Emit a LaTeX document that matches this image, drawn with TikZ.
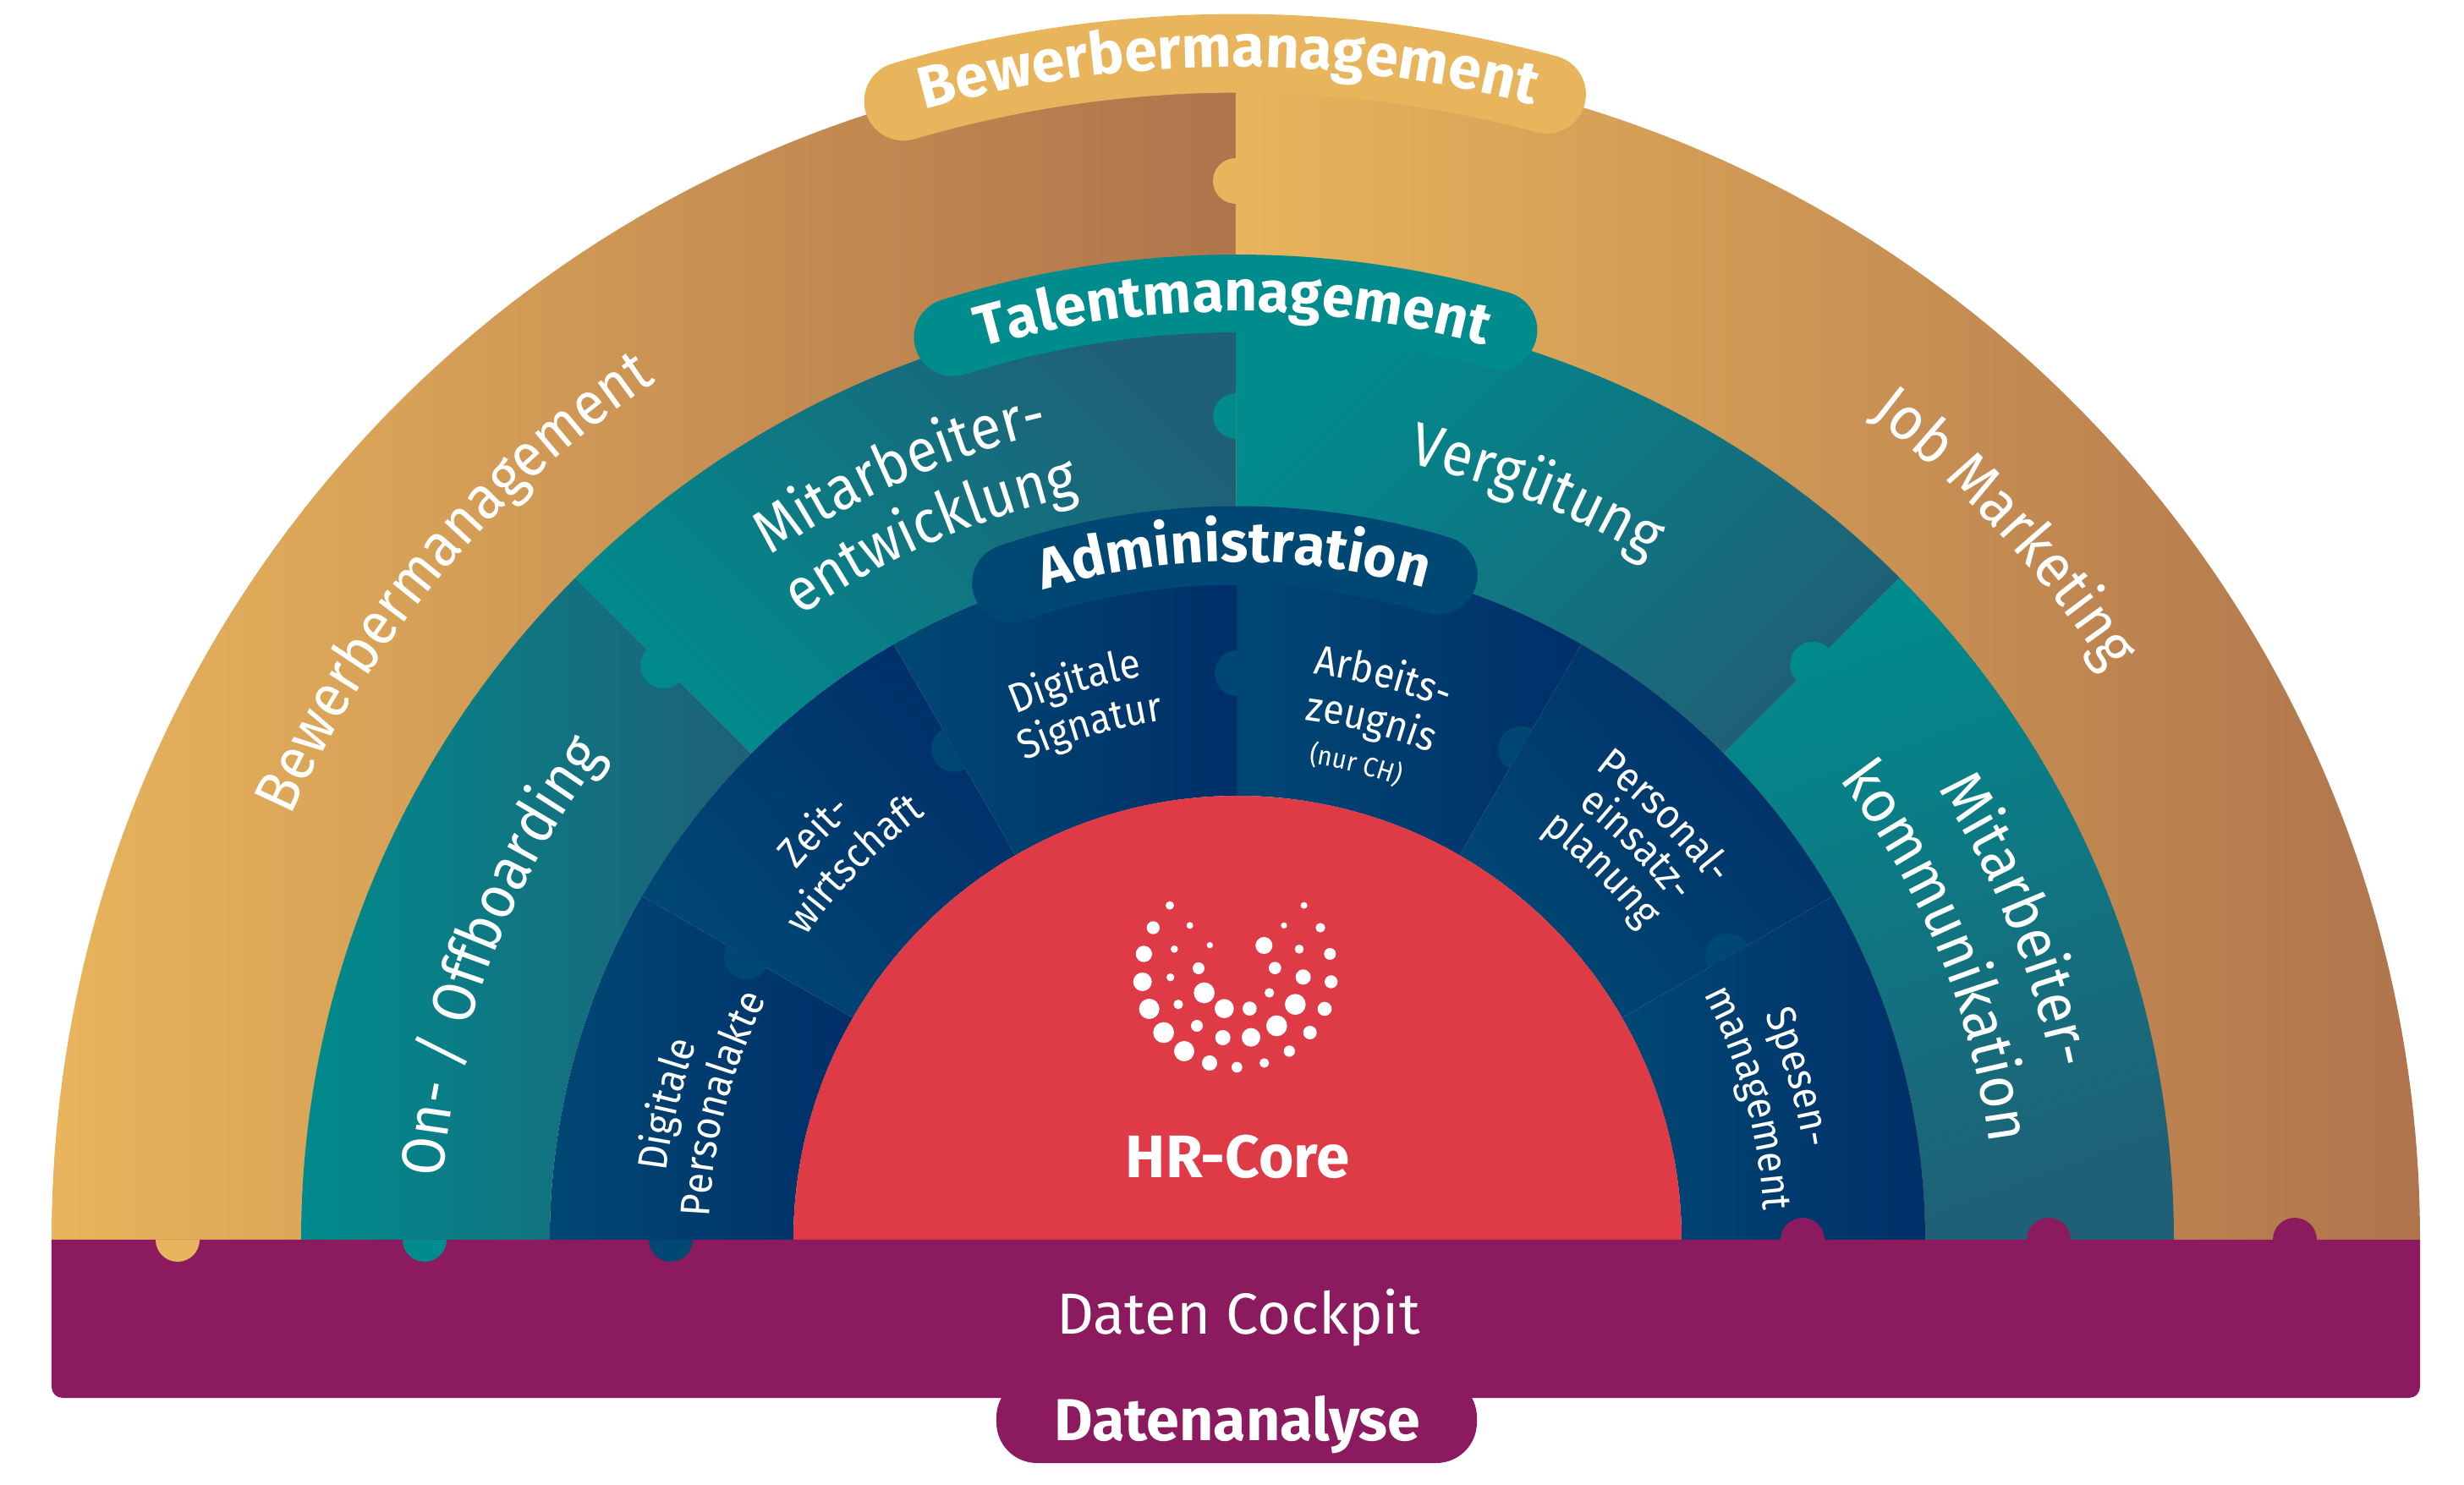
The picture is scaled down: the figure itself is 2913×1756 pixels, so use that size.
\documentclass[tikz,border=0pt]{standalone}
\usepackage{fontspec}
\setmainfont{Fira Sans}
\newfontfamily\ringfont[FakeStretch=0.92]{Fira Sans}
\usetikzlibrary{decorations.text}

\definecolor{goldhell}{HTML}{E8B45C}
\definecolor{goldbraun}{HTML}{AF744C}
\definecolor{tealhell}{HTML}{008B8D}
\definecolor{tealdunkel}{HTML}{1F6076}
\definecolor{blauhell}{HTML}{004874}
\definecolor{blaudunkel}{HTML}{002F69}
\definecolor{kernrot}{HTML}{DF3B47}
\definecolor{datenlila}{HTML}{8B1A5E}

\tikzset{
	goldseg/.style={bottom color=goldhell,top color=goldbraun,shading angle=-90},
	tealseg/.style={bottom color=tealhell,top color=tealdunkel,shading angle=#1},
	blauseg/.style={bottom color=blauhell,top color=blaudunkel,shading angle=#1},
	kerntext/.style={text=white,inner sep=0pt,anchor=base,font=\fontsize{68.5}{72}\selectfont},
}

% Ringsegment: Innenradius, Aussenradius, Winkel von, Winkel bis, Stil
\newcommand{\ringseg}[5]{
	\shade[#5] (#3:#2) arc[start angle=#3,end angle=#4,radius=#2] -- (#4:#1)
		arc[start angle=#4,end angle=#3,radius=#1] -- cycle;
}
% Puzzlenase auf der Trennlinie: Winkel, Abstand, Farbe
\newcommand{\puzzlenase}[3]{
	\fill[#3,rotate=#1] (#2+27,0) arc[start angle=0,end angle=180,radius=27] -- cycle;
}
% Text auf dem Bogen: Radius, Winkel von, Winkel bis, Schrift, Text
\newcommand{\bogentext}[5]{
	\path[decorate,decoration={text along path,text align=center,
		text={|\color{white}#4|#5}}]
		({#2+8}:#1) arc[start angle=#2+8,end angle=#3-8,radius=#1];
}
\newcommand{\grossschrift}{\ringfont\fontsize{72}{80}\selectfont}
\newcommand{\kopfschrift}[1]{\bfseries\fontsize{#1}{76}\selectfont}
\newcommand{\kleinschrift}{\ringfont\fontsize{49}{54}\selectfont}

\begin{document}
\begin{tikzpicture}[x=1pt,y=1pt]
	\useasboundingbox (-1463,-290) rectangle (1450,1466);

	% Aeusserer Ring
	\begin{scope}[xshift=-2pt]
		\ringseg{813}{1400}{90}{180}{goldseg}
		\ringseg{813}{1400}{0}{90}{goldseg}
		\puzzlenase{90}{1252}{goldhell}
	\end{scope}

	% Mittlerer Ring
	\ringseg{813}{1107}{135}{180}{tealseg=-90}
	\ringseg{813}{1107}{90.1}{135}{tealseg=-45}
	\ringseg{813}{1107}{45}{90.1}{bottom color=tealdunkel,top color=tealhell,shading angle=45}
	\ringseg{813}{1107}{0}{45}{bottom color=tealdunkel,top color=tealhell,shading angle=20}

	% Innerer Ring
	\foreach \a/\w in {150/-90,120/-50,90/-90,60/-90,30/-50,0/-90} {
		\ringseg{525}{813}{\a}{\a+30}{blauseg=\w}
	}

	% Puzzlenasen in den Ringen
	\puzzlenase{135}{960}{tealhell!97!tealdunkel}
	\puzzlenase{90.1}{974}{tealhell!97!tealdunkel}
	\puzzlenase{45}{962}{tealhell!97!tealdunkel}
	\foreach \a in {30,60,90,120,150} {
		\puzzlenase{\a}{670}{blauhell}
	}

	% Kern
	\fill[kernrot] (525,0) arc[start angle=0,end angle=180,radius=525] -- cycle;

	% Datenband und Reiter
	\node[fill=datenlila,rounded corners=48pt,minimum width=568pt,minimum height=102pt,inner sep=0pt] (reiter) at (-1,-213) {};
	\fill[datenlila] (-1402,0) [rounded corners=13pt] -- (-1402,-187) -- (1398,-187) [sharp corners] -- (1398,0) -- cycle;

	% Nasen am Datenband
	\foreach \x/\f in {-1253/goldhell,-961/tealhell,-670/blauhell} {
		\fill[\f] (\x-26,0) arc[start angle=180,end angle=360,radius=26] -- cycle;
	}
	\foreach \x in {668,959,1250} {
		\fill[datenlila] (\x-26,0) arc[start angle=180,end angle=0,radius=26] -- cycle;
	}

	% Kopfbaender
	\draw[goldhell,line width=93pt,line cap=round] (106.35:1403) arc[start angle=106.35,end angle=74.9,radius=1403];
	\draw[tealhell,line width=92pt,line cap=round] (107.5:1119) arc[start angle=107.5,end angle=74,radius=1119];
	\draw[blauhell,line width=93pt,line cap=round] (109:821) arc[start angle=109,end angle=73.2,radius=821];

	% Logo
	\foreach \x/\y/\r in {399/122/15,340/201/23,470/193/12,415/277/13,541/263/11,307/294/29,302/393/33,401/377/14,
		501/345/21,521/432/37,326/489/36,429/473/17,592/488/34,682/488/25,377/573/37,495/549/21,587/591/27,
		687/590/33,450/639/36,540/681/27,637/696/19,734/681/17,823/639/20,778/549/37,896/573/24,844/473/37,
		948/489/25,752/432/17,872/376/27,971/393/23,967/294/21,858/277/16,772/344/22,733/264/30,933/201/17,
		804/193/11,875/122/12} {
		\fill[white] ({-213+\x/3},{436-\y/3}) circle[radius=\r/3];
	}

	% Zentrale Beschriftung
	\node[kerntext,font=\bfseries\fontsize{71}{74}\selectfont] (hrcore) at (0,73) {HR-Core};
	\node[kerntext] (cockpit) at (1,-112) {Daten Cockpit};
	\node[kerntext,font=\bfseries\fontsize{70}{74}\selectfont] (analyse) at (0,-237) {Datenanalyse};

	% Kopfbeschriftungen
	\bogentext{1387}{105.5}{75.4}{\kopfschrift{70}}{Bewerbermanagement}
	\bogentext{1098}{105.75}{74.85}{\kopfschrift{68}}{Talentmanagement}
	\bogentext{802}{106.4}{74.2}{\kopfschrift{67}}{Administration}

	% Aeusserer Ring
	\bogentext{1226}{156}{124}{\grossschrift}{Bewerbermanagement}
	\bogentext{1228}{52.6}{33.1}{\grossschrift}{Job Marketing}

	% Mittlerer Ring
	\bogentext{942}{174.9}{143.2}{\grossschrift}{On- / Offboarding}
	\bogentext{980}{124}{103.5}{\grossschrift}{Mitarbeiter-}
	\bogentext{900}{124.5}{102.5}{\grossschrift}{entwicklung}
	\bogentext{940}{78}{58.5}{\grossschrift}{Vergütung}
	\bogentext{985}{32.5}{12}{\grossschrift}{Mitarbeiter-}
	\bogentext{896}{37}{7.7}{\grossschrift}{kommunikation}

	% Innerer Ring
	\bogentext{680}{173.3}{160}{\kleinschrift}{Digitale}
	\bogentext{625}{177.5}{153}{\kleinschrift}{Personalakte}
	\bogentext{680}{140}{132}{\kleinschrift}{Zeit-}
	\bogentext{624}{144.7}{126.5}{\kleinschrift}{wirtschaft}
	\bogentext{675}{113}{99.5}{\kleinschrift}{Digitale}
	\bogentext{620}{113.7}{98.4}{\kleinschrift}{Signatur}
	\bogentext{675}{82.5}{68.5}{\kleinschrift}{Arbeits-}
	\bogentext{620}{83}{68}{\kleinschrift}{zeugnis}
	\bogentext{570}{81.5}{70.5}{\ringfont\fontsize{32}{36}\selectfont}{(nur CH)}
	\bogentext{700}{52.5}{37}{\kleinschrift}{Personal-}
	\bogentext{652}{52}{37.5}{\kleinschrift}{einsatz-}
	\bogentext{603}{53}{38}{\kleinschrift}{planung}
	\bogentext{678}{22.8}{9.5}{\kleinschrift}{Spesen-}
	\bogentext{623}{28}{3}{\kleinschrift}{management}
\end{tikzpicture}
\end{document}
